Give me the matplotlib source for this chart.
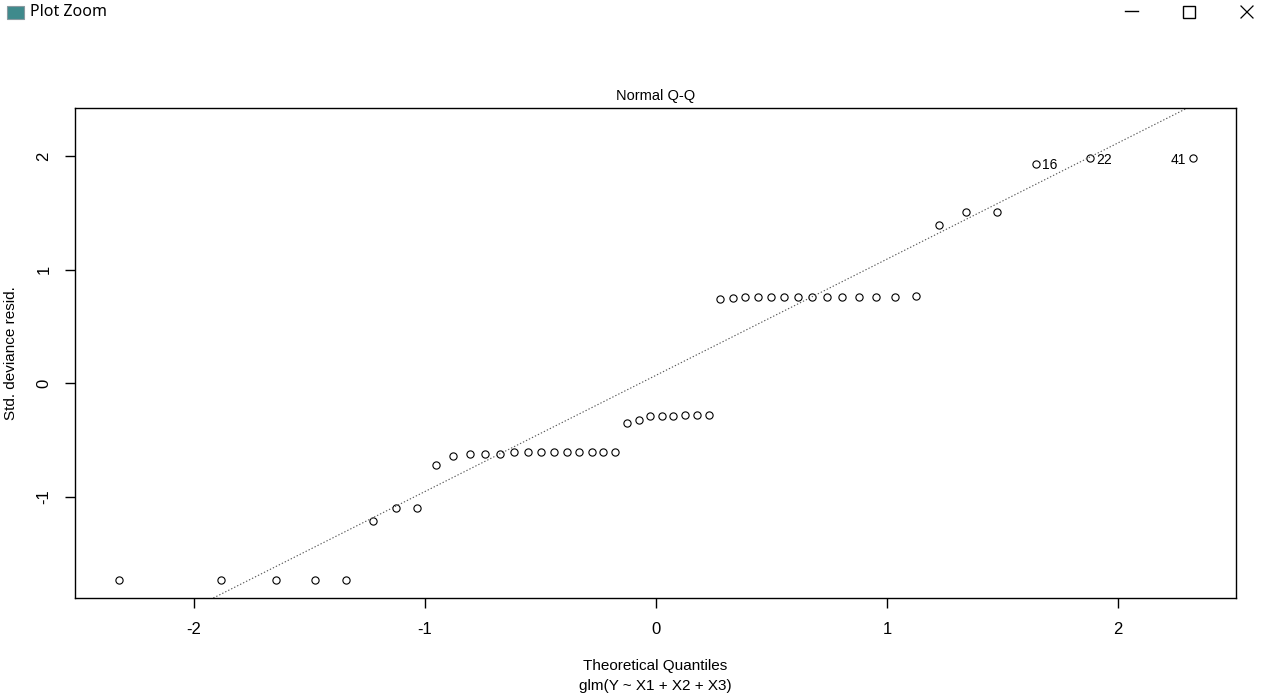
import matplotlib
matplotlib.use("Agg")
import matplotlib.pyplot as plt
import numpy as np
from matplotlib.patches import Rectangle

plt.rcParams['font.family'] = ['Liberation Sans', 'DejaVu Sans']

# Theoretical quantiles (x) and sorted standardized deviance residuals (y)
theoretical = [-2.326, -1.881, -1.645, -1.476, -1.341, -1.227, -1.126, -1.036, -0.954, -0.878,
               -0.806, -0.739, -0.674, -0.613, -0.553, -0.496, -0.440, -0.385, -0.332, -0.279,
               -0.228, -0.176, -0.126, -0.075, -0.025, 0.025, 0.075, 0.126, 0.176, 0.228,
               0.279, 0.332, 0.385, 0.440, 0.496, 0.553, 0.613, 0.674, 0.739, 0.806,
               0.878, 0.954, 1.036, 1.126, 1.227, 1.341, 1.476, 1.645, 1.881, 2.326]
residuals = [-1.73, -1.73, -1.73, -1.73, -1.73, -1.21, -1.10, -1.10, -0.72, -0.64,
             -0.625, -0.625, -0.625, -0.60, -0.60, -0.60, -0.60, -0.60, -0.60, -0.60,
             -0.60, -0.60, -0.345, -0.32, -0.29, -0.29, -0.29, -0.28, -0.28, -0.28,
             0.74, 0.75, 0.76, 0.76, 0.76, 0.76, 0.76, 0.76, 0.76, 0.76,
             0.76, 0.76, 0.76, 0.77, 1.39, 1.51, 1.51, 1.93, 1.98, 1.98]
point_labels = {47: "16", 48: "22", 49: "41"}
x_ticks = [-2, -1, 0, 1, 2]
y_ticks = [-1, 0, 1, 2]

fig = plt.figure(figsize=(12.72, 6.97), dpi=100)
ax = fig.add_axes([75/1272, 1-598/697, (1236-75)/1272, (598-108)/697])

ax.plot(theoretical, residuals, linestyle='none', marker='o', markersize=5.2,
        markerfacecolor='none', markeredgecolor='black', markeredgewidth=0.8)

# qqline through the quartiles
yq = np.quantile(residuals, [0.25, 0.75])
xq = np.array([-0.6745, 0.6745])
slope = (yq[1]-yq[0])/(xq[1]-xq[0])
intercept = yq[0] - slope*xq[0]
ax.axline((0, intercept), slope=slope, color='#555555', linestyle=(0, (1.2, 1.8)), lw=0.8)

for i, lab in point_labels.items():
    if i == 49:
        ax.annotate(lab, (theoretical[i], residuals[i]), xytext=(-5, -1), textcoords='offset points',
                    ha='right', va='center', fontsize=10)
    else:
        ax.annotate(lab, (theoretical[i], residuals[i]), xytext=(4, -1), textcoords='offset points',
                    ha='left', va='center', fontsize=10)

ax.set_xlim(-2.515, 2.511)
ax.set_ylim(-1.888, 2.422)
ax.set_xticks(x_ticks)
ax.set_yticks(y_ticks)
ax.set_xticklabels([str(t) for t in x_ticks], fontsize=12)
ax.set_yticklabels([str(t) for t in y_ticks], fontsize=12, rotation=90, va='center')
ax.tick_params(direction='out', length=7, width=1, pad=10)
for s in ax.spines.values():
    s.set_linewidth(1)

ax.set_title("Normal Q-Q", fontsize=10.5, pad=6)
fig.text(655/1272, 1-666/697, "Theoretical Quantiles", ha='center', va='center', fontsize=11)
fig.text(655/1272, 1-686/697, "glm(Y ~ X1 + X2 + X3)", ha='center', va='center', fontsize=11)
fig.text(11/1272, 1-353/697, "Std. deviance resid.", ha='center', va='center', rotation=90, fontsize=11)

# window title bar
fig.text(30/1272, 1-12/697, "Plot Zoom", ha='left', va='center', fontsize=11.5, family=['Noto Sans', 'DejaVu Sans'])
fig.patches.append(Rectangle((7/1272, 1-19/697), 17/1272, 13/697, transform=fig.transFigure,
                             facecolor='#3f8a8c', edgecolor='#8a9aa0', lw=0.8))
fig.lines.append(plt.Line2D([1125/1272, 1138/1272], [1-11/697, 1-11/697], transform=fig.transFigure, color='black', lw=1))
fig.patches.append(Rectangle((1183/1272, 1-18/697), 12/1272, 12/697, transform=fig.transFigure,
                             facecolor='none', edgecolor='black', lw=1))
fig.lines.append(plt.Line2D([1241/1272, 1253/1272], [1-6/697, 1-18/697], transform=fig.transFigure, color='black', lw=0.9))
fig.lines.append(plt.Line2D([1241/1272, 1253/1272], [1-18/697, 1-6/697], transform=fig.transFigure, color='black', lw=0.9))

fig.savefig("out.png", dpi=100)
